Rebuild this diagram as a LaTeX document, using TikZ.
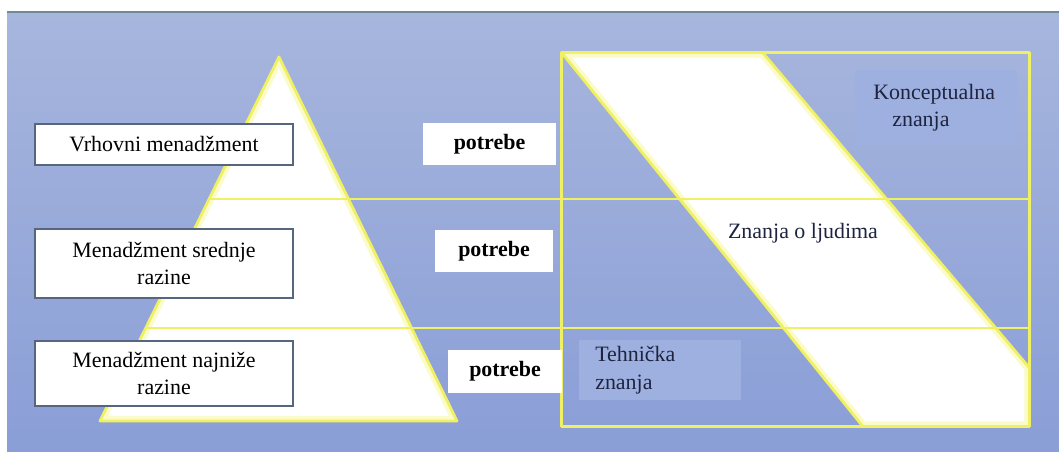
\documentclass[tikz,border=0pt]{standalone}
\usepackage{fontspec}
\setmainfont{Liberation Serif}
\usetikzlibrary{positioning,calc}
\definecolor{bgtop}{HTML}{A7B6DD}
\definecolor{bgbot}{HTML}{8A9ED7}
\definecolor{rimline}{HTML}{6E8A96}
\definecolor{figyellow}{HTML}{F0F064}
\definecolor{figglow}{HTML}{FBFBC8}
\definecolor{boxedge}{HTML}{56667F}
\definecolor{kbox}{HTML}{9DB0DF}
\definecolor{ktext}{HTML}{1E2440}
\definecolor{diagedge}{HTML}{4B5866}
\def\px{0.025cm}
\newcommand{\figfont}{\fontsize{15.6}{19.8}\selectfont}
\tikzset{
  fig/.style={font=\figfont},
  levelbox/.style={draw=boxedge,line width=0.8pt,fill=white,align=center,
                   minimum width=258*\px,inner sep=2pt},
  needbox/.style={fill=white,font=\figfont\bfseries,inner sep=2pt,
                  minimum height=42*\px},
  knowbox/.style={fill=kbox,text=ktext,align=left,anchor=north west,
                  minimum width=162*\px,inner ysep=0pt},
  yline/.style={figyellow,line width=2pt,line join=round},
  glow/.style={figglow,line width=7pt,line join=round},
  hrule/.style={figyellow,line width=1.5pt},
  rim/.style={diagedge,line width=0.6pt},
}

\begin{document}
\begin{tikzpicture}[fig,x=\px,y=-\px]
\useasboundingbox (0,0) rectangle (1059,452);

% ------------------------------------------------ background
\shade[top color=bgtop,bottom color=bgbot] (7,12) rectangle (1059,452);
\draw[rimline,line width=0.8pt] (7,12) -- (1059,12);

% ------------------------------------------------ 1: the pyramid
\coordinate (apex)  at (279,57);
\coordinate (baseL) at (100,421);
\coordinate (baseR) at (457,421);
\fill[white] (apex) -- (baseR) -- (baseL) -- cycle;
\begin{scope}
  \clip (apex) -- (baseR) -- (baseL) -- cycle;
  \draw[glow] (apex) -- (baseR) -- (baseL) -- cycle;
\end{scope}
\draw[yline] (apex) -- (baseR) -- (baseL) -- cycle;

% ------------------------------------------------ 2: the skills frame
\node[minimum width=467*\px,minimum height=373*\px,inner sep=0pt]
  (frame) at (795.5,239.5) {};
\coordinate (bandTL) at (frame.north west);
\coordinate (bandTR) at ($(frame.north west)+(201,0)$);
\coordinate (bandRE) at ($(frame.north east)+(0,315)$);
\coordinate (bandBL) at ($(frame.south west)+(301,0)$);
% dark rim on the blue side of each diagonal
\draw[rim,shift={(-2,1.6)}] (bandTL) -- (bandBL);
\draw[rim,shift={(2,-1.6)}] (bandTR) -- (bandRE);
\fill[white] (bandTL) -- (bandTR) -- (bandRE) -- (frame.south east)
  -- (bandBL) -- cycle;
\begin{scope}
  \clip (bandTL) -- (bandTR) -- (bandRE) -- (frame.south east)
    -- (bandBL) -- cycle;
  \draw[glow] (bandTL) -- (bandTR) -- (bandRE) -- (frame.south east)
    -- (bandBL) -- cycle;
\end{scope}
\draw[yline] (bandTL) -- (bandBL) (bandTR) -- (bandRE);

% ------------------------------------------------ 3: level cuts
\coordinate (cut1) at ($(apex)!0.39!(baseL)$);
\coordinate (cut2) at ($(apex)!0.745!(baseL)$);
\foreach \c in {cut1,cut2}
  {\draw[hrule] (\c) -- (\c -| frame.east);}
\draw[yline] (frame.north west) rectangle (frame.south east);

% ------------------------------------------------ 4: labels
\foreach \y/\h/\t [count=\n] in {%
  144.5/41/{Vrhovni menadžment},
  263.5/69/{Menadžment srednje\\razine},
  373.5/65/{Menadžment najniže\\razine}}
  {\node[levelbox,minimum height=\h*\px] (level\n) at (164,\y) {\t};}

\foreach \x/\y/\w [count=\n] in {489.5/144.5/133, 494/251.5/118, 505/371.5/114}
  {\node[needbox,minimum width=\w*\px] (need\n) at (\x,\y) {potrebe};}

\node[knowbox,minimum height=75*\px,inner xsep=18*\px,text width=126*\px]
  (concept) at (855,70) {Konceptualna\\\hspace*{0.475cm}znanja};
\node[knowbox,minimum height=60*\px,inner xsep=16*\px,text width=130*\px]
  (technical) at (579,340) {Tehnička\\znanja};
\node[text=ktext] (people) at (803,233) {Znanja o ljudima};

\end{tikzpicture}
\end{document}
